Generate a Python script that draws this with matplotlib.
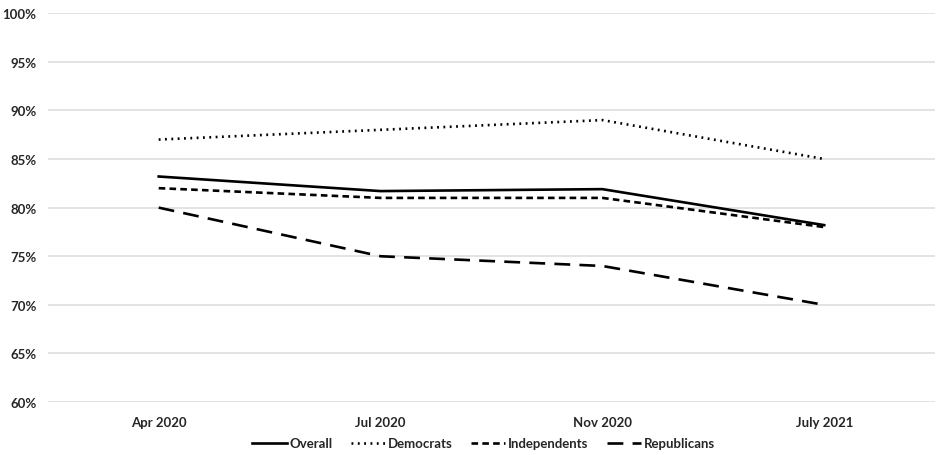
import matplotlib
matplotlib.use("Agg")
import matplotlib.pyplot as plt
from matplotlib.ticker import PercentFormatter

plt.rcParams['font.family'] = ['Lato', 'DejaVu Sans']

periods = ["Apr 2020", "Jul 2020", "Nov 2020", "July 2021"]
overall = [83.2, 81.7, 81.9, 78.2]
democrats = [87, 88, 89, 85]
independents = [82, 81, 81, 78]
republicans = [80, 75, 74, 70]

fig = plt.figure(figsize=(9.37, 4.56), dpi=100)
ax = fig.add_axes([0.051, 0.116, 0.947, 0.853])

x = range(len(periods))
ax.plot(x, overall, color="black", lw=1.9, label="Overall")
ax.plot(x, democrats, color="black", lw=1.9, linestyle=(0, (0.7, 1.7)), label="Democrats")
ax.plot(x, independents, color="black", lw=1.9, linestyle=(0, (2.5, 1.6)), label="Independents")
ax.plot(x, republicans, color="black", lw=1.9, linestyle=(0, (6, 3.5)), label="Republicans")

ax.set_xlim(-0.5, len(periods) - 0.5)
ax.set_ylim(60, 100)
ax.set_yticks(range(60, 101, 5))
ax.yaxis.set_major_formatter(PercentFormatter(decimals=0))
ax.set_xticks(list(x))
ax.set_xticklabels(periods)
ax.grid(axis="y", color="#e0e0e0", lw=1.3)
ax.set_axisbelow(True)
for s in ax.spines.values():
    s.set_visible(False)
ax.tick_params(length=0, labelsize=9.5, colors="#262626", pad=10)
ax.tick_params(axis="y", pad=8)
for lbl in ax.get_xticklabels() + ax.get_yticklabels():
    lbl.set_fontweight("bold")

leg = fig.legend(loc="center", bbox_to_anchor=(0.516, 0.026), ncol=4, frameon=False,
                 prop={"size": 9.5, "weight": "bold"}, handlelength=2.6, handletextpad=0.2,
                 columnspacing=1.4)
for t in leg.get_texts():
    t.set_color("#262626")

fig.savefig("out.png", dpi=100)
